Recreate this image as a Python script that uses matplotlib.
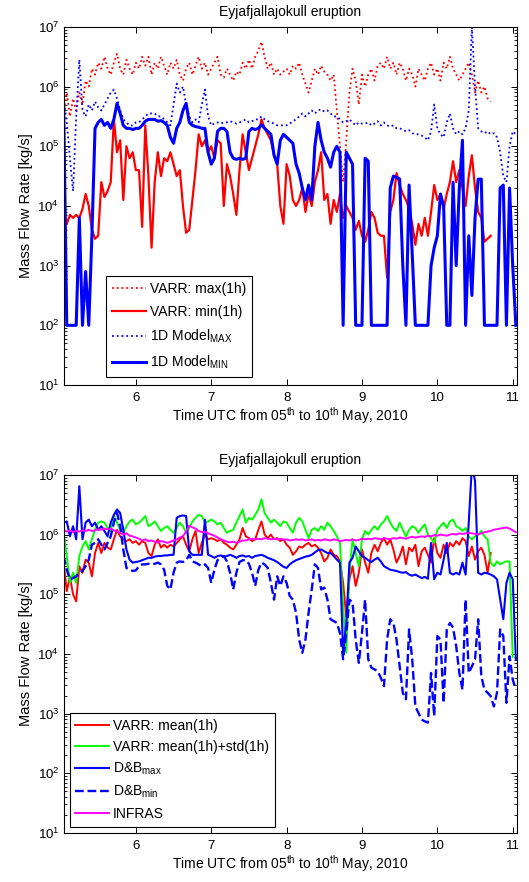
import numpy as np
import matplotlib
matplotlib.use("Agg")
import matplotlib.pyplot as plt
from matplotlib.ticker import FixedLocator, NullFormatter, LogFormatterSciNotation

plt.rcParams['font.family'] = ['Liberation Sans', 'DejaVu Sans']
plt.rcParams['mathtext.fontset'] = 'custom'
plt.rcParams['mathtext.rm'] = 'Liberation Sans'
plt.rcParams['mathtext.it'] = 'Liberation Sans'

# ---------------- data (log10 of mass flow rate, kg/s), hourly from day 5.04 ----------------
t_start = 5.04
step_days = 1.0 / 24.0

# Top panel
varr_max_log = [
    5.6, 5.9, 5.5, 5.8, 5.6, 5.9, 5.7, 6.1, 6.0, 6.3, 6.2, 6.4, 6.3, 6.5, 6.3, 6.2, 6.4, 6.55, 6.3, 6.2,
    6.45, 6.3, 6.2, 6.4, 6.3, 6.5, 6.35, 6.5, 6.2, 6.4, 6.3, 6.5, 6.35, 6.2, 6.4, 6.3, 6.45, 6.2, 6.1, 6.3,
    6.4, 6.2, 6.35, 6.5, 6.3, 6.4, 6.2, 6.3,
    6.4, 6.5, 6.2, 6.15, 6.3, 6.2, 6.1, 6.25, 6.2, 6.4, 6.3, 6.45, 6.3, 6.5, 6.6, 6.75, 6.5, 6.3, 6.4, 6.2,
    6.3, 6.2, 6.25, 6.3, 6.2, 6.35, 6.3, 6.4, 6.2, 6.05, 5.9, 6.1, 6.3, 6.2, 6.35, 6.25, 6.2, 6.1, 6.2, 5.6,
    5.0, 4.4, 5.1, 5.9, 6.3, 6.1, 5.7, 6.2,
    6.0, 6.2, 6.3, 6.1, 6.35, 6.4, 6.3, 6.5, 6.3, 6.4, 6.2, 6.4, 6.3, 6.1, 6.3, 6.2, 6.0, 6.3, 6.2, 6.1,
    6.3, 6.4, 6.2, 6.3, 6.1, 6.4, 6.3, 6.5, 6.3, 6.2, 6.1, 6.2, 6.3, 6.4, 6.2, 5.9, 6.1, 5.9, 6.0, 5.8,
    5.75,
]
varr_min_log = [
    3.9, 3.7, 3.85, 3.8, 3.85, 3.8, 3.95, 4.2, 4.0, 3.6, 3.45, 3.5, 4.4, 4.15, 4.25, 4.4, 5.45, 4.9, 5.1, 4.1,
    5.0, 4.8, 4.9, 4.6, 4.6, 3.65, 5.35, 4.5, 3.3, 4.4, 4.9, 4.5, 4.8, 4.75, 4.9, 4.7, 4.5, 4.6, 4.0, 3.55,
    3.6, 4.1, 4.6, 5.2, 5.0, 5.1, 4.9, 5.0,
    4.8, 5.1, 5.05, 4.0, 4.7, 4.5, 4.2, 3.85, 4.6, 5.2, 4.9, 4.6, 4.8, 5.0, 5.2, 5.45, 5.3, 5.2, 5.1, 4.85,
    4.7, 4.0, 3.7, 4.7, 4.5, 4.1, 4.0, 4.1, 4.3, 3.9, 4.2, 4.0, 4.4, 4.6, 4.9, 4.1, 4.2, 3.7, 4.1, 3.9,
    4.2, 3.8, 4.0, 3.9, 3.8, 3.6, 3.75, 3.5,
    3.4, 3.6, 3.9, 3.8, 3.55, 3.5, 3.5, 2.8, 3.9, 4.1, 4.55, 4.35, 4.2, 4.1, 3.95, 3.7, 3.35, 3.7, 3.5, 3.8,
    3.5, 3.9, 4.35, 4.1, 4.2, 3.95, 4.2, 4.4, 4.75, 4.4, 4.6, 4.3, 4.0, 4.5, 4.85, 4.3, 3.9, 3.8, 3.4, 3.45,
    3.5,
]
model_max_log = [
    5.8, 5.4, 4.8, 4.25, 5.5, 6.45, 5.6, 5.5, 5.7, 5.6, 5.75, 5.65, 5.6, 5.7, 5.8, 5.9, 5.95, 5.8, 5.6, 5.45,
    5.4, 5.35, 5.35, 5.4, 5.4, 5.45, 5.5, 5.55, 5.55, 5.55, 5.5, 5.5, 5.45, 5.4, 5.35, 5.7, 6.05, 5.9, 6.0, 5.7,
    5.5, 5.4, 5.45, 5.4, 5.7, 5.95, 5.5, 5.35,
    5.38, 5.4, 5.38, 5.4, 5.4, 5.42, 5.4, 5.38, 5.4, 5.42, 5.45, 5.4, 5.42, 5.45, 5.45, 5.5, 5.45, 5.42, 5.4, 5.38,
    5.35, 5.35, 5.35, 5.35, 5.38, 5.42, 5.45, 5.5, 5.55, 5.5, 5.55, 5.6, 5.55, 5.6, 5.62, 5.58, 5.6, 5.55, 5.5, 5.5,
    5.45, 5.4, 5.42, 5.45, 5.4, 5.35, 5.4, 5.38,
    5.38, 5.4, 5.35, 5.38, 5.42, 5.35, 5.4, 5.35, 5.33, 5.35, 5.3, 5.3, 5.28, 5.25, 5.27, 5.22, 5.2, 5.2, 5.18, 5.15,
    5.1, 5.25, 5.7, 5.3, 5.2, 5.15, 5.4, 5.55, 5.3, 5.2, 5.25, 5.2, 5.3, 5.6, 7.0, 6.0, 5.3, 5.25, 5.22, 5.25,
    5.2, 5.22, 5.15, 4.9, 4.5, 4.4, 5.0, 5.25, 5.2,
]
model_min_log = [
    5.7, 2.0, 2.0, 2.0, 2.0, 3.8, 2.0, 2.9, 2.0, 3.5, 5.3, 5.4, 5.45, 5.35, 5.4, 5.3, 5.45, 5.72, 5.55, 5.35,
    5.3, 5.3, 5.28, 5.3, 5.3, 5.35, 5.42, 5.45, 5.45, 5.45, 5.42, 5.43, 5.4, 5.35, 5.15, 5.05, 5.3, 5.4, 5.6, 5.72,
    5.4, 5.35, 5.33, 5.32, 5.3, 5.3, 4.9, 4.7,
    4.8, 5.25, 5.3, 5.3, 5.25, 4.9, 4.8, 4.78, 4.8, 4.78, 4.8, 5.25, 5.3, 5.28, 5.3, 5.36, 5.3, 5.25, 5.2, 4.85,
    4.7, 5.1, 5.2, 5.15, 5.1, 5.05, 4.7, 4.55, 4.3, 4.1, 4.35, 4.1, 5.0, 5.4, 5.1, 4.9, 4.8, 4.65, 4.9, 5.0,
    4.9, 2.0, 4.9, 4.8, 4.7, 2.0, 2.0, 2.0,
    4.8, 4.75, 2.0, 2.0, 2.0, 2.0, 2.0, 2.0, 4.3, 4.5, 4.48, 4.45, 3.0, 2.0, 4.35, 3.2, 2.0, 2.0, 2.0, 2.0,
    2.0, 3.0, 3.3, 3.5, 4.2, 4.0, 2.0, 2.0, 4.4, 3.0, 4.3, 5.1, 2.0, 3.5, 2.5, 3.8, 4.45, 4.45, 2.0, 2.0,
    2.0, 2.0, 2.0, 4.3, 4.35, 2.0, 4.3, 3.0, 2.0,
]

# Bottom panel
varr_mean_log = [
    5.53, 5.05, 5.3, 5.0, 4.88, 5.47, 5.36, 5.58, 5.53, 5.30, 5.69, 5.86, 5.69, 5.86, 5.78, 5.75, 5.92, 6.08, 5.97, 5.92,
    5.89, 5.92, 5.86, 5.89, 5.83, 5.89, 5.86, 5.69, 5.64, 5.83, 5.92, 5.78, 5.83, 5.78, 5.83, 5.80, 5.86, 5.92, 5.97, 5.83,
    5.72, 5.92, 6.06, 5.69, 5.86, 6.00, 5.92, 5.94,
    5.92, 5.89, 5.92, 5.86, 5.83, 5.78, 5.75, 5.83, 5.92, 6.11, 5.97, 5.94, 5.89, 5.92, 6.08, 6.22, 6.00, 5.94, 6.00, 5.92,
    5.94, 5.89, 5.92, 5.83, 5.78, 5.66, 5.72, 5.80, 5.78, 5.83, 5.86, 5.80, 5.83, 5.78, 5.69, 5.55, 5.61, 5.75, 5.66, 5.64,
    5.55, 5.19, 4.63, 5.25, 5.47, 5.14, 5.36, 5.75,
    5.53, 5.36, 5.69, 5.83, 5.72, 5.86, 5.94, 5.83, 5.92, 5.75, 5.53, 5.64, 5.80, 5.50, 5.78, 5.72, 5.83, 5.47, 5.72, 5.78,
    5.66, 5.53, 5.94, 5.69, 5.61, 5.83, 5.69, 5.86, 5.80, 5.89, 5.83, 5.94, 5.89, 5.64, 5.80, 5.58, 5.72, 5.78, 5.66, 5.36,
    5.69,
]
varr_mean_std_log = [
    6.03, 5.64, 5.19, 5.36, 5.19, 5.64, 5.80, 5.89, 5.75, 5.92, 6.08, 6.20, 6.22, 6.20, 6.11, 6.06, 6.31, 6.20, 6.08, 6.03,
    6.14, 6.22, 6.25, 6.17, 6.20, 6.25, 6.31, 6.14, 6.17, 6.22, 6.14, 6.06, 6.11, 6.14, 6.08, 6.03, 6.11, 6.20, 6.14, 6.03,
    6.11, 6.22, 6.28, 6.33, 6.31, 6.20, 6.22, 6.25,
    6.22, 6.17, 6.20, 6.11, 6.03, 6.06, 6.08, 6.20, 6.31, 6.42, 6.20, 6.28, 6.25, 6.33, 6.42, 6.59, 6.36, 6.28, 6.20, 6.25,
    6.20, 6.14, 6.22, 6.20, 6.11, 6.03, 6.20, 6.28, 6.22, 6.08, 5.94, 6.08, 6.11, 6.06, 6.14, 6.08, 6.20, 6.14, 6.06, 5.97,
    5.86, 4.80, 4.02, 5.36, 5.92, 5.69, 5.47, 5.92,
    6.06, 6.00, 6.08, 6.14, 6.08, 6.17, 6.22, 6.31, 6.20, 6.11, 6.06, 6.20, 6.08, 5.97, 6.08, 6.14, 6.11, 6.03, 6.11, 6.17,
    6.00, 5.94, 5.86, 6.08, 6.14, 6.20, 6.11, 6.22, 6.25, 6.14, 6.11, 6.06, 6.11, 5.97, 5.92, 5.97, 6.00, 6.06, 5.97, 5.92,
    5.53, 5.47, 5.55, 5.50, 5.53, 5.55, 5.55, 3.95,
]
db_max_log = [
    6.20, 6.22, 5.97, 6.14, 5.92, 6.81, 5.92, 6.20, 6.25, 6.14, 6.20, 6.08, 6.14, 6.06, 5.97, 6.20, 6.33, 6.42, 6.36, 6.08,
    5.75, 5.58, 5.53, 5.54, 5.55, 5.57, 5.59, 5.61, 5.61, 5.63, 5.64, 5.64, 5.65, 5.65, 5.66, 5.66, 6.28, 6.31, 6.32, 6.31,
    5.72, 5.66, 5.66, 5.66, 5.66, 6.25, 5.66, 5.64,
    5.61, 5.64, 5.65, 5.63, 5.64, 5.66, 5.64, 5.61, 5.64, 5.65, 5.63, 5.64, 5.61, 5.64, 5.65, 5.66, 5.64, 5.61, 5.59, 5.57,
    5.54, 5.50, 5.46, 5.44, 5.50, 5.54, 5.57, 5.59, 5.61, 5.63, 5.64, 5.66, 5.70, 5.74, 5.75, 5.72, 5.69, 5.69, 5.64, 5.58,
    5.53, 4.02, 4.52, 5.53, 5.61, 5.80, 5.72, 5.64,
    5.61, 5.57, 5.54, 5.58, 5.61, 5.55, 5.47, 5.44, 5.41, 5.40, 5.39, 5.37, 5.36, 5.37, 5.33, 5.31, 5.33, 5.30, 5.27, 5.29,
    5.26, 5.86, 5.25, 5.36, 5.33, 5.58, 5.86, 5.36, 5.33, 5.36, 5.33, 5.53, 5.33, 6.20, 7.15, 6.90, 5.36, 5.33, 5.36, 5.35,
    5.33, 5.30, 5.25, 4.91, 4.58, 5.19, 5.36, 5.25, 3.91,
]
db_min_log = [
    5.64, 5.41, 5.25, 5.27, 5.30, 5.36, 5.39, 5.47, 5.58, 5.83, 5.86, 5.92, 5.83, 5.75, 5.86, 5.97, 6.20, 6.36, 6.14, 5.75,
    5.44, 5.41, 5.39, 5.40, 5.47, 5.50, 5.50, 5.51, 5.50, 5.51, 5.53, 5.50, 5.41, 5.14, 5.08, 5.36, 5.53, 5.55, 5.54, 5.57,
    5.66, 5.55, 5.53, 5.50, 5.47, 5.50, 5.44, 5.19,
    5.41, 5.57, 5.61, 5.64, 5.55, 5.36, 5.08, 5.36, 5.54, 5.57, 5.57, 5.51, 5.36, 5.14, 5.41, 5.53, 5.50, 5.44, 5.19, 4.91,
    5.30, 5.14, 5.30, 5.19, 4.97, 4.91, 4.69, 4.24, 4.02, 4.24, 4.69, 5.08, 5.50, 5.44, 5.08, 5.11, 4.91, 4.58, 4.55, 4.52,
    4.35, 3.91, 4.35, 4.91, 4.86, 4.24, 3.85, 4.35,
    4.91, 3.91, 3.77, 3.74, 3.71, 3.60, 3.46, 4.24, 4.58, 4.52, 4.24, 3.79, 3.35, 3.24, 4.41, 3.91, 3.12, 3.01, 2.90, 2.87,
    2.85, 3.68, 2.96, 4.30, 4.24, 3.18, 4.41, 4.52, 4.44, 4.13, 3.68, 3.40, 4.91, 3.68, 3.79, 3.91, 4.58, 3.63, 3.40, 3.35,
    3.29, 3.12, 3.35, 4.41, 4.30, 3.18, 3.96, 3.57, 3.40,
]
infras_log = [
    6.08, 6.05, 6.07, 6.04, 6.06, 6.05, 6.07, 6.06, 6.08, 6.06, 6.07, 6.09, 6.08, 6.10, 6.09, 6.10, 6.07, 6.05, 6.03, 6.00,
    6.02, 5.98, 5.97, 5.95, 5.93, 5.90, 5.92, 5.89, 5.90, 5.88, 5.87, 5.89, 5.88, 5.86, 5.88, 5.90, 5.92, 5.95, 5.97, 6.05,
    6.15, 6.12, 6.10, 6.06, 6.04, 6.05, 6.02, 6.00,
    5.98, 5.95, 5.92, 5.90, 5.88, 5.87, 5.88, 5.86, 5.88, 5.90, 5.90, 5.92, 5.93, 5.92, 5.93, 5.92, 5.94, 5.93, 5.92, 5.93,
    5.92, 5.93, 5.91, 5.92, 5.90, 5.91, 5.92, 5.91, 5.92, 5.90, 5.91, 5.92, 5.90, 5.91, 5.90, 5.92, 5.91, 5.90, 5.92, 5.91,
    5.89, 5.90, 5.91, 5.90, 5.92, 5.90, 5.91, 5.93,
    5.92, 5.93, 5.92, 5.94, 5.93, 5.92, 5.94, 5.93, 5.92, 5.94, 5.93, 5.95, 5.94, 5.93, 5.95, 5.96, 5.95, 5.96, 5.97, 5.96,
    5.98, 5.97, 5.99, 5.98, 6.00, 5.99, 5.98, 6.00, 6.01, 6.00, 6.02, 6.01, 6.02, 6.03, 6.02, 6.01, 6.00, 6.02, 6.04, 6.05,
    6.06, 6.08, 6.09, 6.10, 6.11, 6.12, 6.10, 6.07, 6.04,
]

title_text = "Eyjafjallajokull eruption"
xlabel_text = "Time UTC from 05$^{th}$ to 10$^{th}$ May, 2010"
ylabel_text = "Mass Flow Rate [kg/s]"
x_ticks = [6, 7, 8, 9, 10, 11]
y_decades = [1, 2, 3, 4, 5, 6, 7]
top_labels = ["VARR: max(1h)", "VARR: min(1h)", "1D Model$_{MAX}$", "1D Model$_{MIN}$"]
bottom_labels = ["VARR: mean(1h)", "VARR: mean(1h)+std(1h)", "D&B$_{max}$", "D&B$_{min}$", "INFRAS"]


def series(logvals):
    v = np.asarray(logvals, dtype=float)
    t = t_start + np.arange(len(v)) * step_days
    return t, 10.0 ** v


def style_axes(ax):
    ax.set_yscale('log')
    ax.set_xlim(5.045, 11.053)
    ax.set_ylim(10, 1e7)
    ax.xaxis.set_major_locator(FixedLocator(x_ticks))
    ax.yaxis.set_major_locator(FixedLocator([10.0 ** e for e in y_decades]))
    ax.yaxis.set_major_formatter(LogFormatterSciNotation())
    minors = [m * 10.0 ** e for e in y_decades[:-1] for m in range(2, 10)]
    ax.yaxis.set_minor_locator(FixedLocator(minors))
    ax.yaxis.set_minor_formatter(NullFormatter())
    ax.tick_params(which='both', direction='in', top=True, right=True, labelsize=9.5)
    ax.tick_params(which='major', length=4, width=0.7)
    ax.tick_params(axis='x', which='major', pad=5)
    ax.tick_params(which='minor', length=2.2, width=0.6)
    for s in ax.spines.values():
        s.set_linewidth(0.8)
    ax.set_title(title_text, fontsize=10, pad=8)
    ax.set_xlabel(xlabel_text, fontsize=10, labelpad=1)
    ax.set_ylabel(ylabel_text, fontsize=10.5, labelpad=3)


fig = plt.figure(figsize=(5.29, 8.82), dpi=100)
ax1 = fig.add_axes([0.121, 0.5635, 0.856, 0.406])
ax2 = fig.add_axes([0.121, 0.0556, 0.856, 0.406])

# Top panel
l1, = ax1.plot(*series(varr_max_log), color='#ff0000', ls=':', lw=1.3)
l2, = ax1.plot(*series(varr_min_log), color='#ff0000', ls='-', lw=1.6)
l3, = ax1.plot(*series(model_max_log), color='#0000ff', ls=':', lw=1.3)
l4, = ax1.plot(*series(model_min_log), color='#0000ff', ls='-', lw=2.2)
style_axes(ax1)
leg1 = ax1.legend([l1, l2, l3, l4], top_labels, loc='lower left', bbox_to_anchor=(0.093, 0.022),
                  fontsize=10, frameon=True, fancybox=False, edgecolor='black', framealpha=1,
                  handlelength=2.4, labelspacing=0.62, borderpad=0.45, handletextpad=0.3, borderaxespad=0)
leg1.get_frame().set_linewidth(0.8)

# Bottom panel
b1, = ax2.plot(*series(varr_mean_log), color='#ff0000', ls='-', lw=1.4)
b2, = ax2.plot(*series(varr_mean_std_log), color='#00ff00', ls='-', lw=1.4)
b3, = ax2.plot(*series(db_max_log), color='#0000ff', ls='-', lw=1.5)
b4, = ax2.plot(*series(db_min_log), color='#0000ff', ls='--', lw=1.7)
b5, = ax2.plot(*series(infras_log), color='#ff00ff', ls='-', lw=1.4)
style_axes(ax2)
leg2 = ax2.legend([b1, b2, b3, b4, b5], bottom_labels, loc='lower left', bbox_to_anchor=(0.013, 0.017),
                  fontsize=10, frameon=True, fancybox=False, edgecolor='black', framealpha=1,
                  handlelength=2.4, labelspacing=0.5, borderpad=0.4, handletextpad=0.3, borderaxespad=0)
leg2.get_frame().set_linewidth(0.8)

fig.savefig('out.png', dpi=100)
